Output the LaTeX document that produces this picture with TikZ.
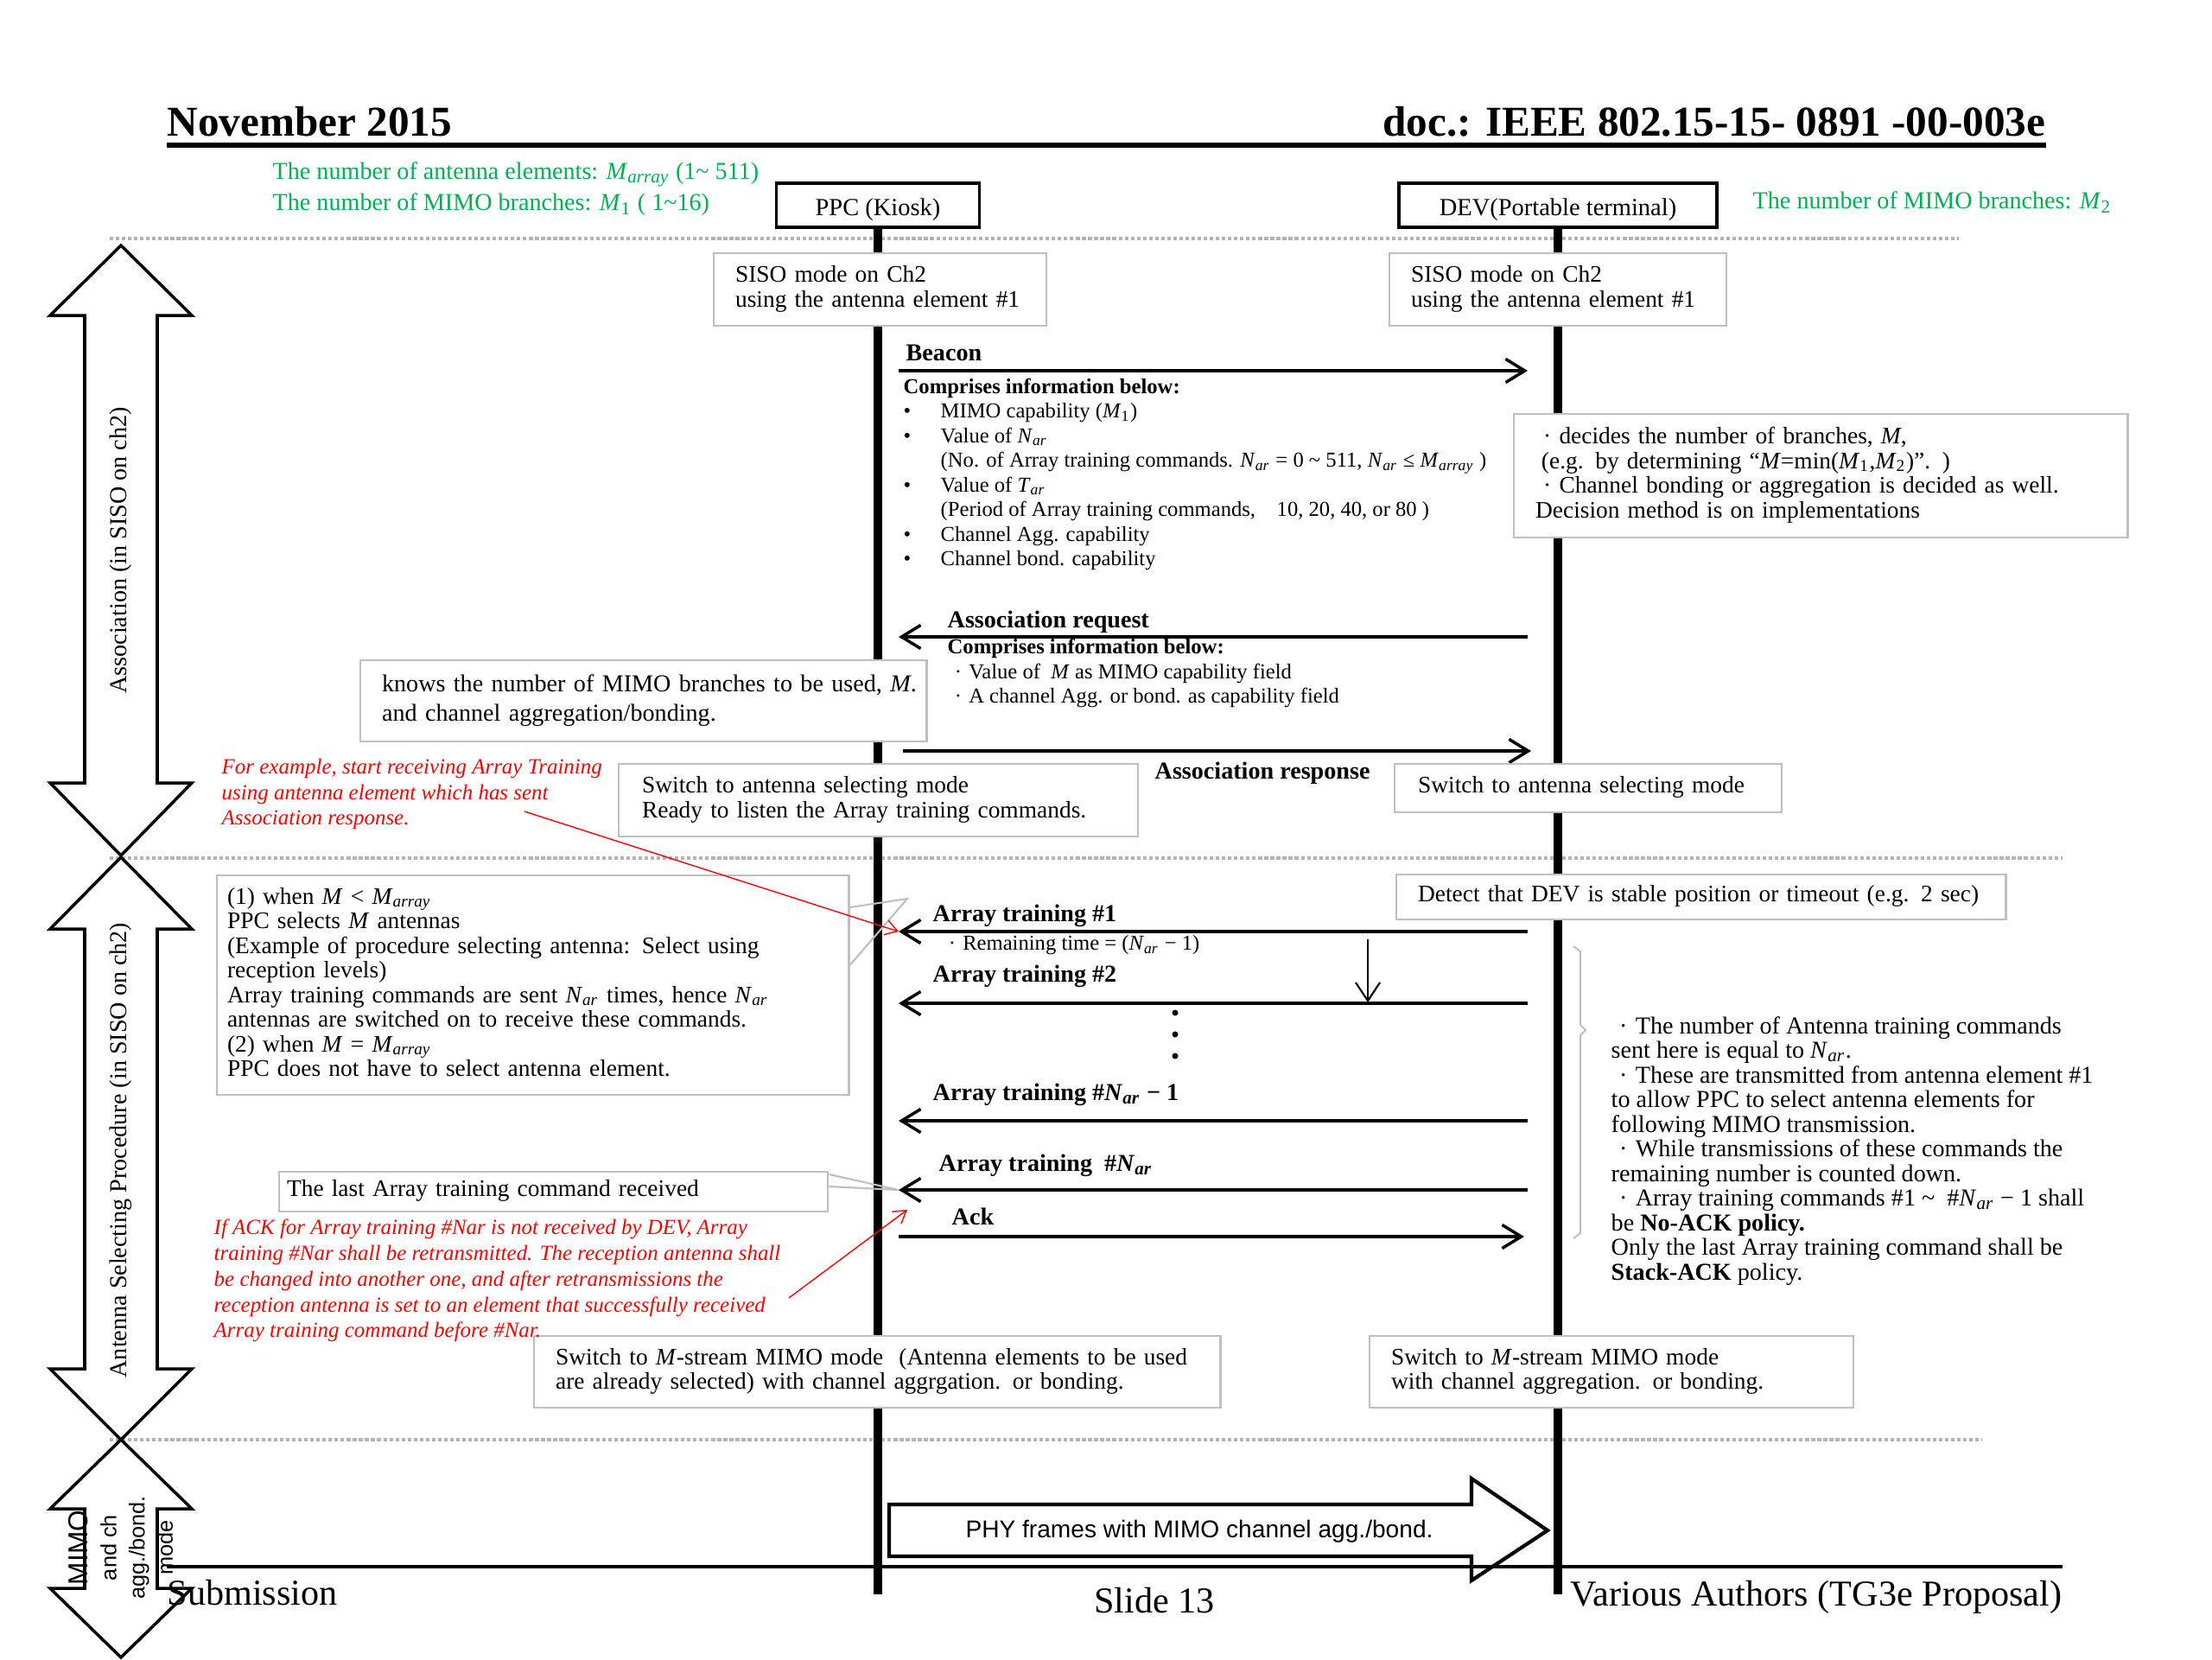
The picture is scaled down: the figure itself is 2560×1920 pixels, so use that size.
\documentclass[tikz,border=0pt]{standalone}
\usepackage{fontspec}
\setmainfont{Liberation Serif}
\setsansfont{Liberation Sans}
\usetikzlibrary{arrows.meta,calc,positioning}
\definecolor{SlideGreen}{HTML}{00B050}
\definecolor{NoteRed}{HTML}{FF0000}
\definecolor{FrameGray}{HTML}{BFBFBF}
\definecolor{DotGray}{HTML}{B4B4B4}
\newcommand{\Marr}{\textit{M}\textsubscript{\textit{array}}}
\newcommand{\Nar}{\textit{N}\textsubscript{\textit{ar}}}
\newcommand{\Tar}{\textit{T}\textsubscript{\textit{ar}}}
\newcommand{\Mk}[1]{\textit{M}\textsubscript{#1}}
\newcommand{\jdot}{\makebox[1em]{\textperiodcentered}}
\newcommand{\fsz}[2]{\fontsize{#1}{#2}\selectfont}
\newcommand{\txtlines}[1]{\begin{tabular}{@{}l@{}}#1\end{tabular}}

\begin{document}
\begin{tikzpicture}[x=0.01cm,y=-0.01cm,>=Latex,
    box/.style={draw=FrameGray,fill=white,line width=0.6pt,anchor=north west,
      align=left,inner xsep=0.25cm,inner ysep=0pt,font=\fsz{7.8}{8.1}},
    actor/.style={draw,line width=1pt,fill=white,minimum height=0.51cm,inner ysep=0pt,
      font=\fsz{8.1}{10}},
    life/.style={line width=2.6pt},
    msg/.style={line width=1pt,-{Straight Barb[length=6.3pt,width=7.7pt]}},
    lbl/.style={anchor=west,inner sep=0pt,font=\bfseries\fsz{8}{9}},
    info/.style={anchor=west,inner sep=0pt,align=left,font=\fsz{7}{8.1}},
    greennote/.style={anchor=west,inner sep=0pt,text=SlideGreen,font=\fsz{8}{10}},
    rednote/.style={anchor=west,inner sep=0pt,align=left,text=NoteRed,
      font=\itshape\fsz{7.1}{8.5}},
    redptr/.style={NoteRed,line width=0.4pt,-{Straight Barb[length=4pt,width=5pt]}},
    divider/.style={DotGray,line width=1pt,dash pattern=on 1.2pt off 0.8pt},
    phase/.style={draw,fill=white,line width=1pt,line join=miter},
    pointer/.style={FrameGray,line width=0.6pt}]
  \useasboundingbox (0,0) rectangle (2560,1920);

  % header
  \node[anchor=base west,inner sep=0pt,font=\bfseries\fsz{14}{16}] (dateHdr) at (193,157) {November 2015};
  \node[anchor=base east,inner sep=0pt,font=\bfseries\fsz{14}{16}] (docHdr) at (2368,157) {doc.: IEEE 802.15-15- 0891 -00-003e};
  \draw[line width=1.5pt] (193,168) -- (2368,168);

  \node[greennote] (elemNum) at (315,202) {The number of antenna elements: \Marr{} (1\textasciitilde{} 511)};
  \node[greennote] (mimoNum1) at (315,237) {The number of MIMO branches: \Mk{1} ( 1\textasciitilde16)};
  \node[greennote] (mimoNum2) at (2028,234) {The number of MIMO branches: \Mk{2}};

  % phase separators
  \draw[divider] (127,276) -- (2267,276);
  \draw[divider] (127,993) -- (2387,993);
  \draw[divider] (127,1666) -- (2294,1666);

  % actors and lifelines
  \node[actor,minimum width=2.35cm] (ppc) at (1016,237.5) {\rule{0pt}{8.5pt}PPC (Kiosk)};
  \node[actor,minimum width=3.68cm] (dev) at (1803,237.5) {\rule{0pt}{8.5pt}DEV(Portable terminal)};
  \coordinate (ppcEnd) at (1016,1845);
  \coordinate (devEnd) at (1803,1845);
  \draw[life] (ppc.south) -- (ppcEnd);
  \draw[life] (dev.south) -- (devEnd);

  % phase arrows on the left
  \draw[phase] (140,284) -- (222,365) -- (182,365) -- (182,906) -- (222,906) -- (140,990)
    -- (58,906) -- (98,906) -- (98,365) -- (58,365) -- cycle;
  \node[rotate=90,font=\fsz{8}{9}] (assocPhase) at (140,637) {Association (in SISO on ch2)};
  \draw[phase] (140,992) -- (222,1075) -- (182,1075) -- (182,1584) -- (222,1584) -- (140,1666)
    -- (58,1584) -- (98,1584) -- (98,1075) -- (58,1075) -- cycle;
  \node[rotate=90,font=\fsz{8}{9}] (selPhase) at (140,1331) {Antenna Selecting Procedure (in SISO on ch2)};
  \draw[phase] (140,1666) -- (222,1746) -- (182,1746) -- (182,1838) -- (222,1838) -- (140,1918)
    -- (58,1838) -- (98,1838) -- (98,1746) -- (58,1746) -- cycle;
  \node[rotate=90,align=center,font=\sffamily\fsz{7.2}{9.3}] (mimoPhase) at (140,1791)
    {{\fsz{9}{9.3}MIMO}\\and ch\\agg./bond.\\mode};

  % association
  \node[box,minimum width=3.85cm,minimum height=0.84cm,text width=3.35cm] (sisoPPC) at (825,292)
    {\txtlines{SISO mode on Ch2\\using the antenna element \#1}};
  \node[box,minimum width=3.9cm,minimum height=0.84cm,text width=3.4cm] (sisoDEV) at (1607,292)
    {\txtlines{SISO mode on Ch2\\using the antenna element \#1}};

  \coordinate (beaconS) at (1040,429);
  \coordinate (beaconE) at (1768,429);
  \draw[msg] (beaconS) -- (beaconE);
  \node[lbl] (beaconLbl) at (1048,408) {Beacon};
  \node[info] (beaconInfo) at (1045,549) {{\bfseries Comprises information below:}\\
    \makebox[0.43cm][l]{\textbullet}MIMO capability (\Mk{1})\\
    \makebox[0.43cm][l]{\textbullet}Value of \Nar\\
    \hspace*{0.43cm}(No. of Array training commands. \Nar{} = 0 \textasciitilde{} 511, \Nar{} ≤ \Marr{} )\\
    \makebox[0.43cm][l]{\textbullet}Value of \Tar\\
    \hspace*{0.43cm}(Period of Array training commands,\quad 10, 20, 40, or 80 )\\
    \makebox[0.43cm][l]{\textbullet}Channel Agg. capability\\
    \makebox[0.43cm][l]{\textbullet}Channel bond. capability};

  \node[box,minimum width=7.1cm,minimum height=1.43cm,text width=6.6cm] (decide) at (1751,478)
    {\txtlines{\jdot decides the number of branches, \textit{M},\\
    \hspace*{0.25em}(e.g. by determining “\textit{M}=min(\Mk{1},\Mk{2})”. )\\
    \jdot Channel bonding or aggregation is decided as well.\\
    Decision method is on implementations}};

  \coordinate (reqS) at (1768,737);
  \coordinate (reqE) at (1040,737);
  \draw[msg] (reqS) -- (reqE);
  \node[lbl] (reqLbl) at (1096,720) {Association request};
  \node[info] (reqInfo) at (1096,779) {{\bfseries Comprises information below:}\\
    \jdot Value of\ \ \textit{M} as MIMO capability field\\
    \jdot A channel Agg. or bond. as capability field};

  \node[box,minimum width=6.55cm,minimum height=0.94cm,text width=6.05cm,font=\fsz{8}{9.7}] (knows) at (416,763)
    {\txtlines{knows the number of MIMO branches to be used, \textit{M}.\\and channel aggregation/bonding.}};

  \coordinate (respS) at (1045,869);
  \coordinate (respE) at (1772,869);
  \draw[msg] (respS) -- (respE);
  \node[lbl] (respLbl) at (1336,895) {Association response};

  \node[box,minimum width=6.01cm,minimum height=0.84cm,text width=5.47cm,inner xsep=0.27cm] (switchPPC) at (715,883)
    {\txtlines{Switch to antenna selecting mode\\Ready to listen the Array training commands.}};
  \node[box,minimum width=4.48cm,minimum height=0.56cm,text width=3.94cm,inner xsep=0.27cm] (switchDEV) at (1613,883)
    {\txtlines{Switch to antenna selecting mode}};

  \node[rednote] (respNote) at (256,919) {For example, start receiving Array Training\\
    using antenna element which has sent\\Association response.};

  % antenna selecting
  \node[box,minimum width=7.05cm,minimum height=0.52cm,text width=6.55cm] (detect) at (1615,1011)
    {\txtlines{Detect that DEV is stable position or timeout (e.g. 2 sec)}};

  \node[box,minimum width=7.31cm,minimum height=2.54cm,text width=7.07cm,inner xsep=0.12cm] (whenBox) at (250,1012)
    {\txtlines{(1) when \textit{M} < \Marr\\PPC selects \textit{M} antennas\\
    (Example of procedure selecting antenna: Select using\\reception levels)\\
    Array training commands are sent \Nar{} times, hence \Nar\\
    antennas are switched on to receive these commands.\\
    (2) when \textit{M} = \Marr\\PPC does not have to select antenna element.}};
  \coordinate (whenTip) at (1050,1040);
  \draw[pointer] ($(whenBox.north east)+(0,38)$) -- (whenTip) -- ($(whenBox.north east)+(0,105)$);

  \foreach \y/\nm in {1078/at1,1161/at2,1297/atN1,1377/atN} {
    \coordinate (\nm S) at (1768,\y);
    \coordinate (\nm E) at (1040,\y);
    \draw[msg] (\nm S) -- (\nm E);
  }
  \node[lbl] (at1Lbl) at (1079,1060) {Array training \#1};
  \node[info] (remainLbl) at (1089,1094) {\jdot Remaining time = (\Nar{} − 1)};
  \node[lbl] (at2Lbl) at (1079,1130) {Array training \#2};
  \node[lbl] (atN1Lbl) at (1079,1267) {Array training \#\Nar{} − 1};
  \node[lbl] (atNLbl) at (1086,1349) {Array training\ \ \#\Nar};
  \foreach \y in {1172,1197,1222}
    \fill (1360,\y) circle (3.5);
  \coordinate (cntTop) at (1583,1087);
  \coordinate (cntBot) at (1583,1160);
  \draw[line width=0.6pt,-{Straight Barb[length=6pt,width=8pt]}] (cntTop) -- (cntBot);

  \coordinate (respNoteTail) at (607,939);
  \draw[redptr] (respNoteTail) -- (at1E);

  \draw[pointer] (1821,1095) -- (1829,1101) -- (1829,1186) -- (1835,1192) -- (1829,1198)
    -- (1829,1427) -- (1821,1433);
  \node[info,font=\fsz{8}{8.1}] (ruleNote) at (1864,1332) {\jdot The number of Antenna training commands\\
    sent here is equal to \Nar.\\
    \jdot These are transmitted from antenna element \#1\\
    to allow PPC to select antenna elements for\\
    following MIMO transmission.\\
    \jdot While transmissions of these commands the\\
    remaining number is counted down.\\
    \jdot Array training commands \#1 \textasciitilde\ \ \#\Nar{} − 1 shall\\
    be \textbf{No-ACK policy.}\\
    Only the last Array training command shall be\\
    \textbf{Stack-ACK} policy.};

  \node[box,minimum width=6.35cm,minimum height=0.46cm,text width=6.17cm,inner xsep=0.09cm] (lastBox) at (322,1355)
    {\txtlines{The last Array training command received}};
  \draw[pointer] ($(lastBox.north east)+(0,4)$) -- (atNE) -- ($(lastBox.north east)+(0,18)$);

  \coordinate (ackS) at (1040,1431);
  \coordinate (ackE) at (1764,1431);
  \draw[msg] (ackS) -- (ackE);
  \node[lbl] (ackLbl) at (1101,1408) {Ack};

  % MIMO mode
  \node[box,minimum width=7.94cm,minimum height=0.83cm,text width=7.44cm] (mimoPPC) at (617,1545)
    {\txtlines{Switch to \textit{M}-stream MIMO mode\ \ (Antenna elements to be used\\
    are already selected) with channel aggrgation. or bonding.}};
  \node[box,minimum width=5.6cm,minimum height=0.83cm,text width=5.1cm] (mimoDEV) at (1584,1545)
    {\txtlines{Switch to \textit{M}-stream MIMO mode\\with channel aggregation. or bonding.}};

  \node[rednote] (ackNote) at (247,1482) {If ACK for Array training \#Nar is not received by DEV, Array\\
    training \#Nar shall be retransmitted. The reception antenna shall\\
    be changed into another one, and after retransmissions the\\
    reception antenna is set to an element that successfully received\\
    Array training command before \#Nar.};
  \coordinate (ackNoteTail) at (913,1502);
  \coordinate (ackNoteTip) at (1050,1400);
  \draw[redptr] (ackNoteTail) -- (ackNoteTip);

  \draw[phase,line width=1.2pt] (1029,1741) -- (1703,1741) -- (1703,1711) -- (1791,1771)
    -- (1703,1829) -- (1703,1801) -- (1029,1801) -- cycle;
  \node[font=\sffamily\fsz{8}{9}] (phyLbl) at (1388,1772) {PHY frames with MIMO channel agg./bond.};

  % footer
  \draw[line width=1pt] (193,1813) -- (2387,1813);
  \node[anchor=base west,inner sep=0pt,font=\fsz{12}{14}] (subFtr) at (193,1857) {Submission};
  \node[anchor=base,inner sep=0pt,font=\fsz{12}{14}] (slideFtr) at (1336,1866) {Slide 13};
  \node[anchor=base east,inner sep=0pt,font=\fsz{12}{14}] (authFtr) at (2387,1858) {Various Authors (TG3e Proposal)};
\end{tikzpicture}
\end{document}
